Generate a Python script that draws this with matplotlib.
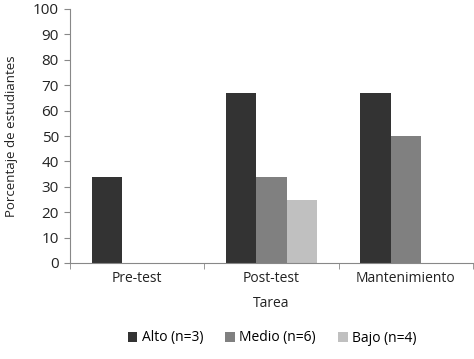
import matplotlib
matplotlib.use("Agg")
import matplotlib.pyplot as plt
import numpy as np

categories = ["Pre-test", "Post-test", "Mantenimiento"]
series_names = ["Alto (n=3)", "Medio (n=6)", "Bajo (n=4)"]
alto = [34, 67, 67]
medio = [0, 34, 50]
bajo = [0, 25, 0]
colors = ["#333333", "#808080", "#c0c0c0"]

plt.rcParams['font.family'] = ['Open Sans', 'DejaVu Sans']
fig = plt.figure(figsize=(4.74, 3.59), dpi=100)
ax = fig.add_axes([70/474, 1-263/359, 403/474, 254/359])

x = np.arange(len(categories))
w = 0.225
for i, (vals, name, c) in enumerate(zip([alto, medio, bajo], series_names, colors)):
    ax.bar(x + (i - 1) * w, vals, w, color=c, label=name, edgecolor='none')

ax.set_xlim(-0.5, 2.5)
ax.set_ylim(0, 100)
ax.set_yticks(range(0, 101, 10))
ax.set_xticks(x)
ax.set_xticklabels(categories, fontsize=10)
ax.set_xticks([-0.5, 0.5, 1.5, 2.5], minor=True)
ax.tick_params(axis='x', which='major', length=0, pad=6, colors='#222222')
ax.tick_params(axis='x', which='minor', length=4, color='#888888')
ax.tick_params(axis='y', length=4, color='#888888', labelsize=11, labelcolor='#222222', pad=4)
for s in ['top', 'right']:
    ax.spines[s].set_visible(False)
for s in ['left', 'bottom']:
    ax.spines[s].set_color('#888888')
    ax.spines[s].set_linewidth(0.8)

ax.set_ylabel("Porcentaje de estudiantes", fontsize=9.5, color='#222222')
ax.yaxis.set_label_coords(-52/403, 0.5)
ax.set_xlabel("Tarea", fontsize=10, color='#222222')
ax.xaxis.set_label_coords(0.5, -33/254)

fig.legend(loc='center', bbox_to_anchor=(272/474, 1-338/359), ncol=3, frameon=False,
           fontsize=10, handlelength=0.7, handleheight=0.7, handletextpad=0.3, columnspacing=1.6)

fig.savefig("out.png", dpi=100)
